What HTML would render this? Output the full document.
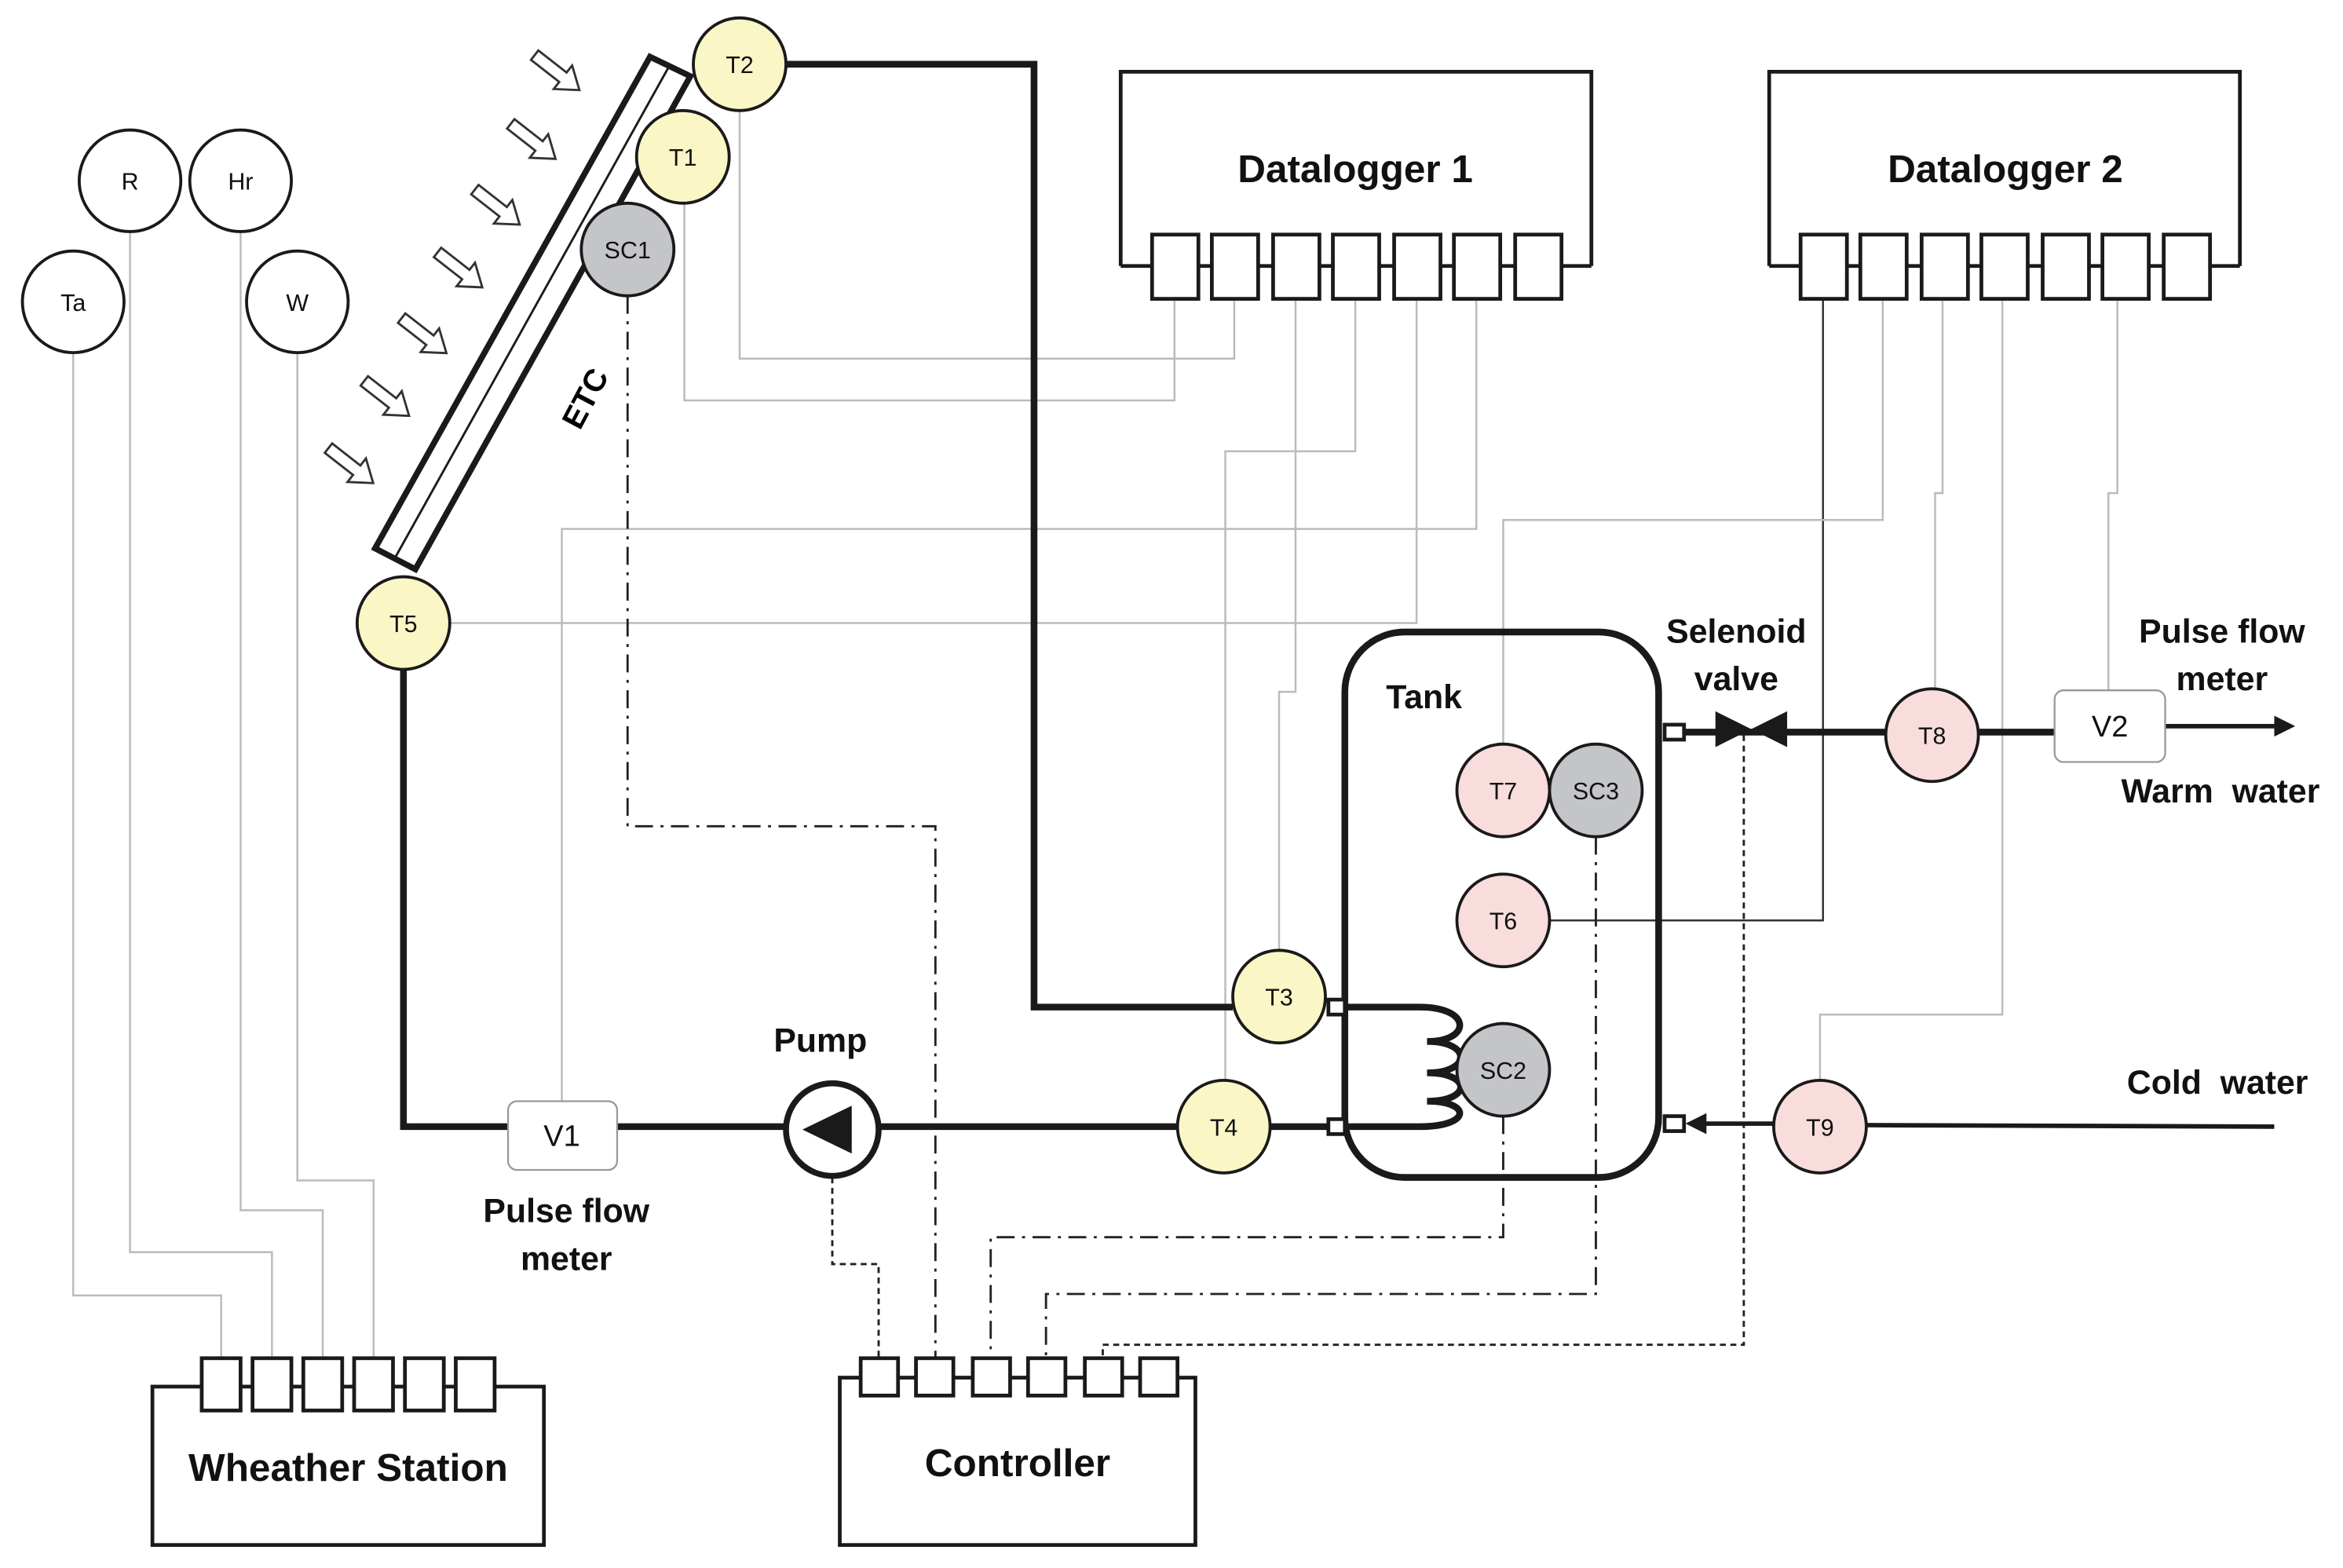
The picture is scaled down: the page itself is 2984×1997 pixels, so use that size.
<!DOCTYPE html>
<html><head><meta charset="utf-8"><style>html,body{margin:0;padding:0;background:#fff}svg{display:block}</style></head>
<body>
<svg width="2984" height="1997" viewBox="0 0 1568 1049.4" preserveAspectRatio="none" xmlns="http://www.w3.org/2000/svg" font-family="Liberation Sans, sans-serif">
<rect width="1568" height="1050" fill="#fff"/>
<g fill="none" stroke="#bbb" stroke-width="1.3">
<polyline points="49,236 49,867 148,867 148,909"/>
<polyline points="87,155 87,838 182,838 182,909"/>
<polyline points="161,155 161,810 216,810 216,909"/>
<polyline points="199,236 199,790 250,790 250,909"/>
<polyline points="495,74 495,240 826,240 826,200"/>
<polyline points="458,136 458,268 786,268 786,200"/>
<polyline points="867,200 867,463 856,463 856,636"/>
<polyline points="907,200 907,302 820,302 820,723"/>
<polyline points="988,200 988,354 376,354 376,737"/>
<polyline points="948,200 948,417 301,417"/>
<polyline points="1220,200 1220,616 1037,616" stroke="#333"/>
<polyline points="1260,200 1260,348 1006,348 1006,498"/>
<polyline points="1300,200 1300,330 1295,330 1295,461"/>
<polyline points="1340,200 1340,679 1218,679 1218,723"/>
<polyline points="1417,200 1417,330 1411,330 1411,462"/>
</g>
<g fill="none" stroke="#222" stroke-width="1.5" stroke-dasharray="12,5,2,5">
<polyline points="420,198 420,553 626,553 626,909"/>
<polyline points="1006,747 1006,828 663,828 663,909"/>
<polyline points="1068,560 1068,866 700,866 700,909"/>
</g>
<g fill="none" stroke="#222" stroke-width="1.5" stroke-dasharray="4,3">
<polyline points="557,788 557,846 588,846 588,909"/>
<polyline points="1167,492 1167,900 738,900 738,909"/>
</g>
<g fill="none" stroke="#1a1a1a" stroke-width="4.5">
<polyline points="526,43 692,43 692,674 825,674"/>
<polyline points="270,448 270,754 526,754"/>
<line x1="588" y1="754" x2="895" y2="754"/>
<path d="M900,674 H950 C985,674 985,697 955,697 C985,697 985,718 955,718 C985,718 985,737 955,737 C985,737 985,754 950,754 H900"/>
<rect x="900" y="423" width="210" height="365" rx="40"/>
<line x1="1128" y1="490" x2="1262" y2="490"/>
<line x1="1324" y1="490" x2="1375" y2="490"/>
<line x1="1449" y1="486" x2="1522" y2="486" stroke-width="3"/>
<line x1="1140" y1="752" x2="1187" y2="752" stroke-width="3"/>
<line x1="1249" y1="753" x2="1522" y2="754" stroke-width="3"/>
</g>
<polygon points="1522,479 1536,486 1522,493" fill="#1a1a1a"/>
<polygon points="1128,752 1142,745 1142,759" fill="#1a1a1a"/>
<g fill="#fff" stroke="#1a1a1a" stroke-width="2.5">
<rect x="889" y="669" width="11" height="10"/><rect x="889" y="749" width="11" height="10"/>
<rect x="1114" y="485" width="13" height="10"/><rect x="1114" y="747" width="13" height="10"/>
</g>
<polygon points="1148,476 1172,488 1148,500" fill="#1a1a1a"/>
<polygon points="1196,476 1172,488 1196,500" fill="#1a1a1a"/>
<!-- ETC -->
<polygon points="251,367 278,381 462,51 435,38" fill="#fff" stroke="#1a1a1a" stroke-width="4"/>
<line x1="264" y1="374" x2="448" y2="44" stroke="#1a1a1a" stroke-width="1.5"/>
<text x="0" y="0" transform="translate(398,270) rotate(-62)" font-size="21" font-weight="bold" text-anchor="middle">ETC</text>
<g fill="#fff" stroke="#333" stroke-width="1.5">
<g transform="translate(372,48) rotate(38)"><polygon points="-18,-4 6,-4 6,-10 20,0 6,10 6,4 -18,4"/></g>
<g transform="translate(356,94) rotate(38)"><polygon points="-18,-4 6,-4 6,-10 20,0 6,10 6,4 -18,4"/></g>
<g transform="translate(332,138) rotate(38)"><polygon points="-18,-4 6,-4 6,-10 20,0 6,10 6,4 -18,4"/></g>
<g transform="translate(307,180) rotate(38)"><polygon points="-18,-4 6,-4 6,-10 20,0 6,10 6,4 -18,4"/></g>
<g transform="translate(283,224) rotate(38)"><polygon points="-18,-4 6,-4 6,-10 20,0 6,10 6,4 -18,4"/></g>
<g transform="translate(258,266) rotate(38)"><polygon points="-18,-4 6,-4 6,-10 20,0 6,10 6,4 -18,4"/></g>
<g transform="translate(234,311) rotate(38)"><polygon points="-18,-4 6,-4 6,-10 20,0 6,10 6,4 -18,4"/></g>
</g>
<!-- boxes -->
<g fill="#fff" stroke="#1a1a1a" stroke-width="2.5">
<polyline points="750,178 750,48 1065,48 1065,178"/>
<polyline points="1184,178 1184,48 1499,48 1499,178"/>
<line x1="750" y1="178" x2="1065" y2="178"/><line x1="1184" y1="178" x2="1499" y2="178"/>
<rect x="771" y="157" width="31" height="43"/><rect x="811" y="157" width="31" height="43"/><rect x="852" y="157" width="31" height="43"/><rect x="892" y="157" width="31" height="43"/><rect x="933" y="157" width="31" height="43"/><rect x="973" y="157" width="31" height="43"/><rect x="1014" y="157" width="31" height="43"/>
<rect x="1205" y="157" width="31" height="43"/><rect x="1245" y="157" width="31" height="43"/><rect x="1286" y="157" width="31" height="43"/><rect x="1326" y="157" width="31" height="43"/><rect x="1367" y="157" width="31" height="43"/><rect x="1407" y="157" width="31" height="43"/><rect x="1448" y="157" width="31" height="43"/>
<rect x="102" y="928" width="262" height="106"/>
<rect x="135" y="909" width="26" height="35"/><rect x="169" y="909" width="26" height="35"/><rect x="203" y="909" width="26" height="35"/><rect x="237" y="909" width="26" height="35"/><rect x="271" y="909" width="26" height="35"/><rect x="305" y="909" width="26" height="35"/>
<rect x="562" y="922" width="238" height="112"/>
<rect x="576" y="909" width="25" height="25"/><rect x="613" y="909" width="25" height="25"/><rect x="651" y="909" width="25" height="25"/><rect x="688" y="909" width="25" height="25"/><rect x="726" y="909" width="25" height="25"/><rect x="763" y="909" width="25" height="25"/>
</g>
<g stroke="#999" stroke-width="1.2" fill="#fff">
<rect x="340" y="737" width="73" height="46" rx="6"/>
<rect x="1375" y="462" width="74" height="48" rx="6"/>
</g>
<!-- pump -->
<circle cx="557" cy="756" r="31" fill="#fff" stroke="#1a1a1a" stroke-width="4"/>
<polygon points="537,756 570,740 570,772" fill="#1a1a1a"/>
<!-- circles -->
<g stroke="#1a1a1a" stroke-width="2">
<circle cx="49" cy="202" r="34" fill="#fff"/><circle cx="87" cy="121" r="34" fill="#fff"/><circle cx="161" cy="121" r="34" fill="#fff"/><circle cx="199" cy="202" r="34" fill="#fff"/>
<circle cx="495" cy="43" r="31" fill="#fbf6c6"/><circle cx="457" cy="105" r="31" fill="#fbf6c6"/><circle cx="420" cy="167" r="31" fill="#c4c5c8"/>
<circle cx="270" cy="417" r="31" fill="#fbf6c6"/><circle cx="856" cy="667" r="31" fill="#fbf6c6"/><circle cx="819" cy="754" r="31" fill="#fbf6c6"/>
<circle cx="1006" cy="529" r="31" fill="#f9dcdc"/><circle cx="1068" cy="529" r="31" fill="#c4c5c8"/><circle cx="1006" cy="616" r="31" fill="#f9dcdc"/><circle cx="1006" cy="716" r="31" fill="#c4c5c8"/>
<circle cx="1293" cy="492" r="31" fill="#f9dcdc"/><circle cx="1218" cy="754" r="31" fill="#f9dcdc"/>
</g>
<g font-size="16" text-anchor="middle" fill="#111">
<text x="49" y="208">Ta</text><text x="87" y="127">R</text><text x="161" y="127">Hr</text><text x="199" y="208">W</text>
<text x="495" y="49">T2</text><text x="457" y="111">T1</text><text x="420" y="173">SC1</text>
<text x="270" y="423">T5</text><text x="856" y="673">T3</text><text x="819" y="760">T4</text>
<text x="1006" y="535">T7</text><text x="1068" y="535">SC3</text><text x="1006" y="622">T6</text><text x="1006" y="722">SC2</text>
<text x="1293" y="498">T8</text><text x="1218" y="760">T9</text>
<text x="376" y="767" font-size="20">V1</text><text x="1412" y="493" font-size="20">V2</text>
</g>
<g font-size="22.5" font-weight="bold" text-anchor="middle" fill="#111">
<text x="907" y="122" font-size="26">Datalogger 1</text><text x="1342" y="122" font-size="26">Datalogger 2</text>
<text x="233" y="991" font-size="26">Wheather Station</text><text x="681" y="988" font-size="26">Controller</text>
<text x="953" y="474">Tank</text><text x="549" y="704">Pump</text>
<text x="379" y="818">Pulse flow</text><text x="379" y="850">meter</text>
<text x="1162" y="430">Selenoid</text><text x="1162" y="462">valve</text>
<text x="1487" y="430">Pulse flow</text><text x="1487" y="462">meter</text>
<text x="1486" y="537" xml:space="preserve">Warm  water</text><text x="1484" y="732" xml:space="preserve">Cold  water</text>
</g>
</svg>
</body></html>
